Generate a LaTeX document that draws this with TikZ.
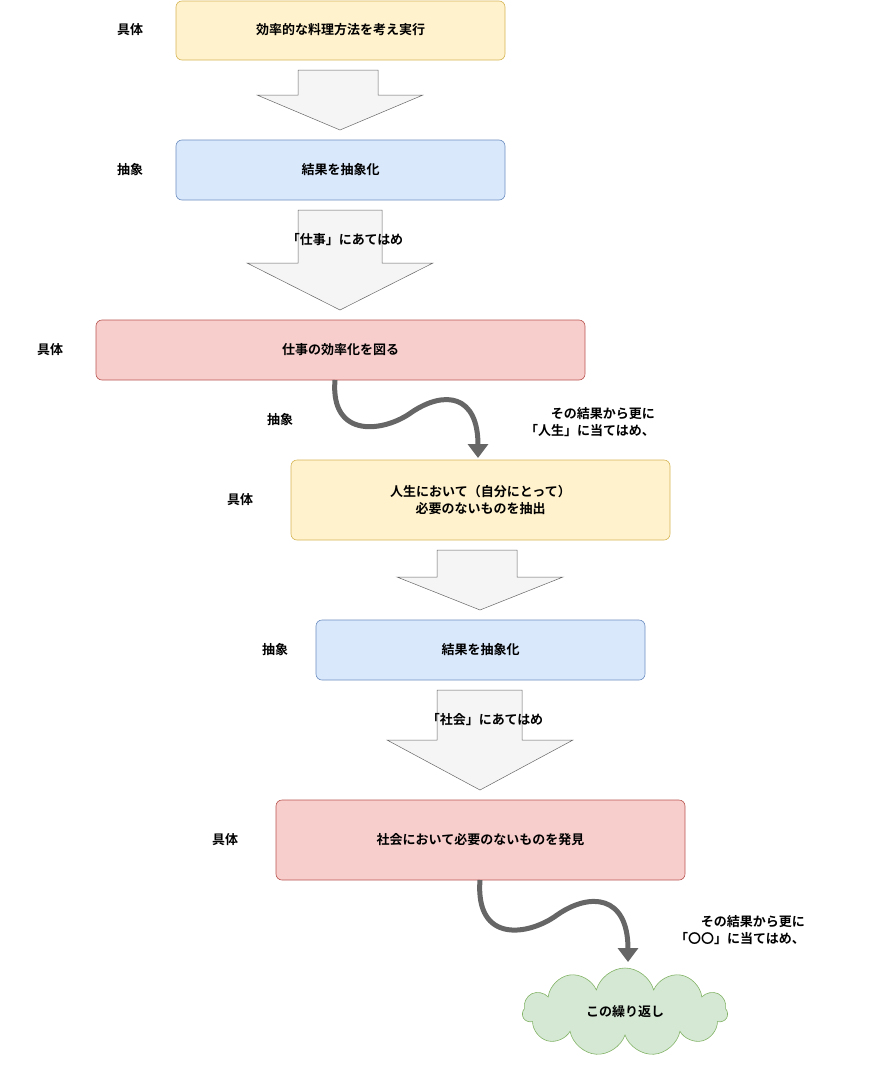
\documentclass[tikz,border=0pt]{standalone}
\usepackage{fontspec}
\setmainfont{Noto Sans CJK JP}[BoldFont={Noto Sans CJK JP Bold}]
\usetikzlibrary{shapes.symbols,arrows.meta}
\definecolor{yf}{HTML}{FFF2CC}\definecolor{ys}{HTML}{D6B656}
\definecolor{bf}{HTML}{DAE8FC}\definecolor{bs}{HTML}{6C8EBF}
\definecolor{rf}{HTML}{F8CECC}\definecolor{rs}{HTML}{B85450}
\definecolor{gf}{HTML}{D5E8D4}\definecolor{gs}{HTML}{82B366}
\definecolor{af}{HTML}{F5F5F5}\definecolor{as}{HTML}{666666}
\begin{document}
\begin{tikzpicture}[x=1pt,y=-1pt,font=\fontsize{13}{17}\selectfont\bfseries,
 box/.style={draw,rounded corners=6pt,line width=0.6pt},
 yb/.style={box,fill=yf,draw=ys}, bb/.style={box,fill=bf,draw=bs}, rb/.style={box,fill=rf,draw=rs},
 lab/.style={inner sep=0pt},
 blk/.style={fill=af,draw=as,line width=0.5pt},
 curv/.style={draw=as,line width=5pt,-{Triangle[length=14pt,width=20pt]}}]
\useasboundingbox (0,0) rectangle (871,1071);
\draw[yb] (176,1) rectangle (505,60); \node[lab] (t1) at (340.5,30) {効率的な料理方法を考え実行};
\node[lab] (l1) at (130,30) {具体};
\draw[blk] (298,70)--(378,70)--(378,95)--(423,95)--(340,130)--(257,95)--(298,95)--cycle;
\draw[bb] (176,140) rectangle (505,200); \node[lab] (t2) at (340.5,170) {結果を抽象化};
\node[lab] (l2) at (130,170) {抽象};
\draw[blk] (298,210)--(382,210)--(382,263)--(433,263)--(340,310)--(247,263)--(298,263)--cycle;
\node[lab] (a2) at (345,240) {「仕事」にあてはめ};
\draw[rb] (96,320) rectangle (585,380); \node[lab] (t3) at (340.5,350) {仕事の効率化を図る};
\node[lab] (l3) at (50,350) {具体};
\coordinate (c1s) at (335,380); \coordinate (c1e) at (478,458);
\draw[curv] (c1s) .. controls (330,440) and (385,432) .. (412,412) .. controls (445,390) and (478,395) .. (c1e);
\node[lab] (l3b) at (280,420) {抽象};
\node[lab,align=right] (a3) at (590,422) {その結果から更に\\「人生」に当てはめ、};
\draw[yb] (291,460) rectangle (670,540);
\node[lab,align=center] (t4) at (480.5,500) {人生において（自分にとって）\\必要のないものを抽出};
\node[lab] (l4) at (240,500) {具体};
\draw[blk] (437,550)--(517,550)--(517,577)--(563,577)--(480,610)--(397,577)--(437,577)--cycle;
\draw[bb] (316,620) rectangle (645,680); \node[lab] (t5) at (480.5,650) {結果を抽象化};
\node[lab] (l5) at (275,650) {抽象};
\draw[blk] (437,690)--(522,690)--(522,740)--(573,740)--(480,790)--(387,740)--(437,740)--cycle;
\node[lab] (a5) at (485,720) {「社会」にあてはめ};
\draw[rb] (276,800) rectangle (685,880); \node[lab] (t6) at (480.5,840) {社会において必要のないものを発見};
\node[lab] (l6) at (225,840) {具体};
\coordinate (c2s) at (480,880); \coordinate (c2e) at (628,962);
\draw[curv] (c2s) .. controls (475,945) and (530,935) .. (557,915) .. controls (590,892) and (628,895) .. (c2e);
\node[lab,align=right] (a6) at (740,930) {その結果から更に\\「〇〇」に当てはめ、};
\node[cloud,cloud puffs=11,aspect=2.4,draw=gs,fill=gf,line width=0.6pt,minimum width=205pt,minimum height=88pt,inner sep=0pt] (cl) at (625,1012) {};
\node[lab] (t7) at (cl) {この繰り返し};
\end{tikzpicture}
\end{document}
